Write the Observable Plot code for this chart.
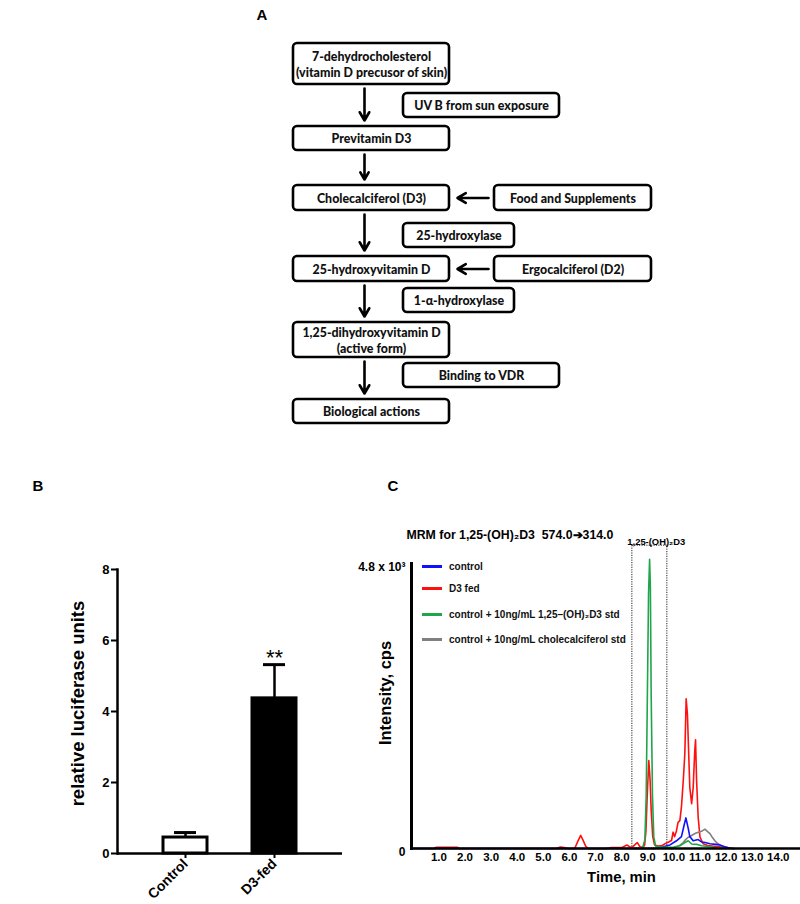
<!DOCTYPE html>
<html>
<head>
<meta charset="utf-8">
<script src="https://cdn.jsdelivr.net/npm/d3@7"></script>
<script src="https://cdn.jsdelivr.net/npm/@observablehq/plot@0.6"></script>
<style>
  body { margin: 0; background: #fff; }
  #wrap { position: relative; width: 800px; height: 904px; overflow: hidden; background: #fff; }
  .panel { position: absolute; }
  .tag { position: absolute; font: bold 15px "Liberation Sans", Arial, sans-serif; color: #000; transform: translate(-50%, -50%); }
  .leg { position: absolute; font: bold 10px "Liberation Sans", Arial, sans-serif; color: #111; white-space: nowrap; }
  .leg span.sw { position: absolute; width: 20px; height: 3px; }
  .leg span.tx { position: absolute; transform: translateY(-50%); }
</style>
</head>
<body>
<div id="wrap"></div>
<script>
// ================= DATA =================
// Panel A: vitamin D pathway
const mainSteps = [
  "7-dehydrocholesterol\n(vitamin D precusor of skin)",
  "Previtamin D3",
  "Cholecalciferol (D3)",
  "25-hydroxyvitamin D",
  "1,25-dihydroxyvitamin D\n(active form)",
  "Biological actions"
];
const stepLabels = ["UV B from sun exposure", "25-hydroxylase", "1-α-hydroxylase", "Binding to VDR"];
const sourceLabels = ["Food and Supplements", "Ergocalciferol (D2)"];

// Panel B: luciferase assay
const groups = ["Control", "D3-fed"];
const luciferaseMean = [0.45, 4.37];
const luciferaseSem = [0.14, 0.95];
const significance = ["", "**"];
const bTicks = [0, 2, 4, 6, 8];

// Panel C: MRM chromatogram (time in min, intensity in cps)
const traceLabels = [
  "control",
  "D3 fed",
  "control + 10ng/mL 1,25–(OH)₂D3 std",
  "control + 10ng/mL cholecalciferol std"
];
const controlTrace = [[-0.05,0],[9.3,0],[9.59,30],[9.85,60],[10.1,130],[10.29,200],[10.38,370],[10.46,515],[10.55,340],[10.61,200],[10.74,130],[10.93,150],[11.06,110],[11.2,100],[11.38,80],[11.6,70],[11.76,60],[11.95,30],[12.15,5],[12.3,0]];
const d3FedTrace = [[0.0,0],[0.8,0],[0.9,20],[1.7,20],[1.8,0],[5.5,0],[5.65,25],[5.8,15],[5.95,0],[6.2,0],[6.32,120],[6.43,220],[6.52,140],[6.62,40],[6.72,0],[7.4,0],[7.6,15],[8.0,15],[8.2,60],[8.3,30],[8.4,20],[8.52,70],[8.6,100],[8.7,30],[8.82,20],[8.88,60],[8.93,300],[8.98,900],[9.04,1480],[9.09,1150],[9.13,650],[9.19,200],[9.26,60],[9.4,40],[9.55,50],[9.7,90],[9.8,110],[9.91,135],[9.97,275],[10.03,200],[10.1,300],[10.16,440],[10.23,470],[10.29,700],[10.36,1145],[10.42,1600],[10.47,2520],[10.52,2250],[10.56,1700],[10.61,1030],[10.68,755],[10.74,1030],[10.8,1650],[10.83,1830],[10.87,1145],[10.93,527],[11.0,190],[11.12,80],[11.3,50],[11.63,35],[12.0,20],[12.26,0]];
const calcitriolStdTrace = [[8.5,0],[8.8,10],[8.89,150],[8.94,900],[8.98,2400],[9.03,4300],[9.07,4870],[9.1,4400],[9.13,2600],[9.18,900],[9.23,200],[9.3,40],[9.5,20],[9.8,20],[10.0,25],[10.23,45],[10.42,100],[10.55,130],[10.68,75],[10.87,70],[11.06,45],[11.38,30],[11.7,5],[11.9,0]];
const cholecalciferolStdTrace = [[9.9,0],[10.1,30],[10.25,60],[10.36,100],[10.45,150],[10.55,190],[10.65,210],[10.74,235],[10.85,260],[11.0,280],[11.1,300],[11.19,325],[11.28,290],[11.38,250],[11.47,190],[11.57,130],[11.66,90],[11.76,60],[11.89,15],[12.0,0]];
const windowStart = 8.41, windowEnd = 9.75, windowTop = 5100;
const windowLabel = "1,25-(OH)₂D3";
const cTicks = [1,2,3,4,5,6,7,8,9,10,11,12,13,14];
const cTitle = "MRM for 1,25-(OH)₂D3  574.0➔314.0";

// ================= LAYOUT / STYLE =================
const wrap = document.getElementById("wrap");
function place(node, left, top) {
  const d = document.createElement("div");
  d.className = "panel";
  d.style.left = left + "px";
  d.style.top = top + "px";
  d.appendChild(node);
  wrap.appendChild(d);
}
function tag(txt, x, y) {
  const d = document.createElement("div");
  d.className = "tag"; d.textContent = txt;
  d.style.left = x + "px"; d.style.top = y + "px";
  wrap.appendChild(d);
}
const sans = "'Liberation Sans', Arial, sans-serif";

// ---------- Panel A ----------
const layoutA = {
  mainX: [293, 449],
  mainY: [[43,84],[126,150],[185,210],[256,281],[322,357],[399,423]],
  stepBoxes: [{x:[403,559], y:[93,117]}, {x:[403,514], y:[223,247]}, {x:[403,514], y:[288,312]}, {x:[403,559], y:[363,387]}],
  sourceX: [494, 651],
  sourceRow: [2, 3],
  arrowX: 364
};
const boxes = [
  ...mainSteps.map((label, i) => ({label, x1: layoutA.mainX[0], x2: layoutA.mainX[1], y1: layoutA.mainY[i][0], y2: layoutA.mainY[i][1]})),
  ...stepLabels.map((label, i) => ({label, x1: layoutA.stepBoxes[i].x[0], x2: layoutA.stepBoxes[i].x[1], y1: layoutA.stepBoxes[i].y[0], y2: layoutA.stepBoxes[i].y[1]})),
  ...sourceLabels.map((label, i) => ({label, x1: layoutA.sourceX[0], x2: layoutA.sourceX[1], y1: layoutA.mainY[layoutA.sourceRow[i]][0], y2: layoutA.mainY[layoutA.sourceRow[i]][1]}))
];
const downArrows = mainSteps.slice(1).map((_, i) => ({x: layoutA.arrowX, y1: layoutA.mainY[i][1] + 4, y2: layoutA.mainY[i + 1][0] - 6}));
const leftArrows = sourceLabels.map((_, i) => {
  const r = layoutA.mainY[layoutA.sourceRow[i]];
  return {x1: layoutA.sourceX[0] - 6, x2: layoutA.mainX[1] + 8, y: (r[0] + r[1]) / 2};
});

const plotA = Plot.plot({
  width: 800, height: 440, margin: 0,
  x: {domain: [0, 800], range: [0, 800], axis: null},
  y: {domain: [0, 440], range: [0, 440], axis: null},
  style: {background: "transparent", overflow: "visible"},
  marks: [
    Plot.rect(boxes, {x1: "x1", x2: "x2", y1: "y1", y2: "y2", rx: 4, fill: "white", stroke: "black", strokeWidth: 2.6}),
    Plot.text(boxes, {x: d => (d.x1 + d.x2) / 2, y: d => (d.y1 + d.y2) / 2, text: "label", fontFamily: "Lato, 'Open Sans', sans-serif", fontWeight: 900, fontSize: 12.4, lineHeight: 1.25, fill: "#111"}),
    Plot.arrow(downArrows, {x1: "x", x2: "x", y1: "y1", y2: "y2", strokeWidth: 2.6, headLength: 5.5, stroke: "black"}),
    Plot.arrow(leftArrows, {x1: "x1", x2: "x2", y1: "y", y2: "y", strokeWidth: 2.6, headLength: 5.5, stroke: "black"})
  ]
});
place(plotA, 0, 0);
tag("A", 262, 14);

// ---------- Panel B ----------
const bData = groups.map((group, i) => ({group, mean: luciferaseMean[i], top: luciferaseMean[i] + luciferaseSem[i], sig: significance[i]}));
const plotB = Plot.plot({
  width: 345, height: 444,
  marginLeft: 117, marginRight: 3, marginTop: 109, marginBottom: 51,
  style: {background: "transparent", overflow: "visible", fontFamily: sans, color: "black"},
  x: {domain: groups, padding: 0.51},
  y: {domain: [0, 8]},
  marks: [
    Plot.ruleX(bData, {x: "group", y1: "mean", y2: "top", strokeWidth: 2.5}),
    Plot.tickY(bData, {x: "group", y: "top", strokeWidth: 3, insetLeft: 11, insetRight: 11}),
    Plot.barY(bData, {filter: d => d.group === groups[0], x: "group", y: "mean", fill: "white", stroke: "black", strokeWidth: 3}),
    Plot.barY(bData, {filter: d => d.group === groups[1], x: "group", y: "mean", fill: "black", stroke: "black", strokeWidth: 3}),
    Plot.text(bData, {x: "group", y: "top", text: "sig", dy: -7, fontSize: 22, fontFamily: sans}),
    Plot.ruleY([0], {strokeWidth: 2.5}),
    Plot.frame({anchor: "left", strokeWidth: 2.5}),
    Plot.axisY({ticks: bTicks, tickSize: 6, tickPadding: 2, strokeWidth: 2, fontSize: 13, fontWeight: "bold", label: null}),
    Plot.axisX({tickSize: 5, tickPadding: 3, tickRotate: -45, strokeWidth: 2, fontSize: 14, fontWeight: "bold", label: null}),
    Plot.text(["relative luciferase units"], {frameAnchor: "left", textAnchor: "middle", rotate: -90, dx: -39, dy: -8, fontSize: 18.5, fontWeight: "bold", fontFamily: sans})
  ]
});
place(plotB, 0, 460);
tag("B", 38, 485);

// ---------- Panel C ----------
const traceColors = ["#1010ff", "#ff1010", "#1fa64a", "#808080"];
const traceData = [controlTrace, d3FedTrace, calcitriolStdTrace, cholecalciferolStdTrace];
const drawOrder = [1, 3, 0, 2];
const traceRows = drawOrder.flatMap(k => traceData[k].map(([t, v]) => ({t, v, series: traceLabels[k], color: traceColors[k]})));

const plotC = Plot.plot({
  width: 460, height: 444,
  marginLeft: 71, marginRight: 0, marginTop: 103, marginBottom: 56,
  style: {background: "transparent", overflow: "visible", fontFamily: sans, color: "black"},
  x: {domain: [-0.05, 14.85]},
  y: {domain: [0, 4800]},
  marks: [
    Plot.rect([{x1: windowStart, x2: windowEnd, y1: 0, y2: windowTop}], {x1: "x1", x2: "x2", y1: "y1", y2: "y2", fill: "none", stroke: "#222", strokeWidth: 1, strokeDasharray: "1.2,1.2"}),
    Plot.text([windowLabel], {x: windowStart, y: windowTop, text: d => d, textAnchor: "start", lineAnchor: "bottom", dx: -5, dy: -1, fontSize: 9.4, fontWeight: "bold", fontFamily: sans}),
    Plot.line(traceRows, {x: "t", y: "v", z: "series", stroke: "color", strokeWidth: 1.6, curve: "linear"}),
    Plot.ruleY([0], {strokeWidth: 2.5}),
    Plot.frame({anchor: "left", strokeWidth: 3}),
    Plot.axisY({ticks: [0, 4800], tickFormat: d => d ? "4.8 x 10³" : "0", tickSize: 0, tickPadding: 6, dy: 4, fontSize: 12, fontWeight: "bold", label: null}),
    Plot.axisX({ticks: cTicks, tickFormat: d => d.toFixed(1), tickSize: 0, tickPadding: 4, fontSize: 11.5, fontWeight: "bold", label: null}),
    Plot.text(["Time, min"], {frameAnchor: "bottom", lineAnchor: "middle", dx: 15.5, dy: 29, fontSize: 14.8, fontWeight: "bold", fontFamily: sans}),
    Plot.text(["Intensity, cps"], {frameAnchor: "left", textAnchor: "middle", rotate: -90, dx: -26, dy: -13, fontSize: 16.5, fontWeight: "bold", fontFamily: sans}),
    Plot.text([cTitle], {frameAnchor: "top-left", textAnchor: "start", dx: -5, dy: -33, fontSize: 12.3, fontWeight: "bold", fontFamily: sans})
  ]
});
place(plotC, 340, 460);
tag("C", 393, 485);

// legend for C (inside plot area)
const legendRowsY = [566, 588, 614, 639];
traceLabels.forEach((label, i) => {
  const sw = document.createElement("div");
  sw.className = "leg";
  sw.style.left = "0px"; sw.style.top = "0px";
  const line = document.createElement("span");
  line.className = "sw";
  line.style.left = "422px"; line.style.top = (legendRowsY[i] - 1.5) + "px";
  line.style.background = traceColors[i];
  const tx = document.createElement("span");
  tx.className = "tx";
  tx.style.left = "449px"; tx.style.top = legendRowsY[i] + "px";
  tx.textContent = label;
  sw.appendChild(line); sw.appendChild(tx);
  wrap.appendChild(sw);
});
</script>
</body>
</html>
